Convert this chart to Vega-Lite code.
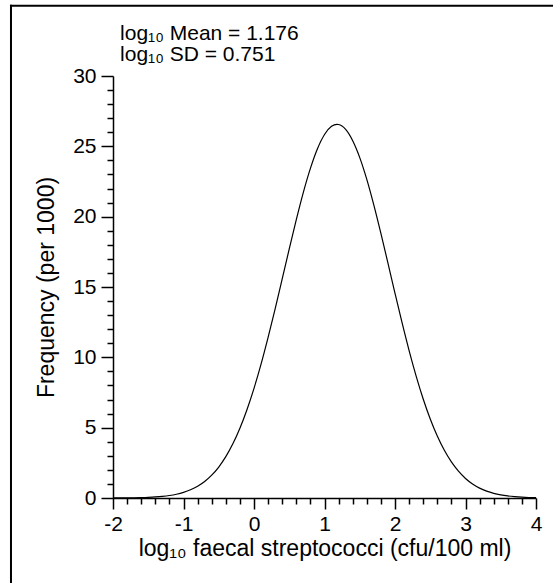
{
  "$schema": "https://vega.github.io/schema/vega-lite/v6.json",
  "width": 423,
  "height": 422,
  "autosize": {"type": "none"},
  "padding": {"left": 113, "top": 76, "right": 17, "bottom": 85},
  "background": "white",
  "config": {"view": {"stroke": null}, "font": "Liberation Sans", "text": {"font": "Liberation Sans"}},
  "data": {"values": [
    {"x": -2.0, "y": 0.0035}, {"x": -1.9, "y": 0.006}, {"x": -1.8, "y": 0.0103}, {"x": -1.7, "y": 0.0174},
    {"x": -1.6, "y": 0.0287}, {"x": -1.5, "y": 0.0465}, {"x": -1.4, "y": 0.074}, {"x": -1.3, "y": 0.1159},
    {"x": -1.2, "y": 0.1782}, {"x": -1.1, "y": 0.2692}, {"x": -1.0, "y": 0.3992}, {"x": -0.9, "y": 0.582},
    {"x": -0.8, "y": 0.8332}, {"x": -0.7, "y": 1.173}, {"x": -0.6, "y": 1.621}, {"x": -0.5, "y": 2.202},
    {"x": -0.4, "y": 2.938}, {"x": -0.3, "y": 3.851}, {"x": -0.2, "y": 4.959}, {"x": -0.1, "y": 6.273},
    {"x": 0.0, "y": 7.794}, {"x": 0.1, "y": 9.516}, {"x": 0.2, "y": 11.42}, {"x": 0.3, "y": 13.45},
    {"x": 0.4, "y": 15.57}, {"x": 0.5, "y": 17.71}, {"x": 0.6, "y": 19.79}, {"x": 0.7, "y": 21.73},
    {"x": 0.8, "y": 23.43}, {"x": 0.9, "y": 24.83}, {"x": 1.0, "y": 25.84}, {"x": 1.1, "y": 26.42},
    {"x": 1.176, "y": 26.56}, {"x": 1.2, "y": 26.55}, {"x": 1.3, "y": 26.2}, {"x": 1.4, "y": 25.4},
    {"x": 1.5, "y": 24.2}, {"x": 1.6, "y": 22.65}, {"x": 1.7, "y": 20.82}, {"x": 1.8, "y": 18.81},
    {"x": 1.9, "y": 16.69}, {"x": 2.0, "y": 14.55}, {"x": 2.1, "y": 12.46}, {"x": 2.2, "y": 10.48},
    {"x": 2.3, "y": 8.667}, {"x": 2.4, "y": 7.038}, {"x": 2.5, "y": 5.615}, {"x": 2.6, "y": 4.401},
    {"x": 2.7, "y": 3.389}, {"x": 2.8, "y": 2.564}, {"x": 2.9, "y": 1.905}, {"x": 3.0, "y": 1.391},
    {"x": 3.1, "y": 0.9976}, {"x": 3.2, "y": 0.7031}, {"x": 3.3, "y": 0.4869}, {"x": 3.4, "y": 0.3312},
    {"x": 3.5, "y": 0.2214}, {"x": 3.6, "y": 0.1453}, {"x": 3.7, "y": 0.0937}, {"x": 3.8, "y": 0.0593},
    {"x": 3.9, "y": 0.0369}, {"x": 4.0, "y": 0.0226}
  ]},
  "layer": [
    {
      "mark": {"type": "line", "color": "black", "strokeWidth": 1.2, "interpolate": "monotone"},
      "encoding": {
        "x": {"field": "x", "type": "quantitative",
          "scale": {"domain": [-2, 4], "nice": false, "zero": false},
          "axis": {"orient": "bottom", "values": [-2, -1, 0, 1, 2, 3, 4], "labelExpr": "datum.value + ''",
            "tickSize": 11, "tickWidth": 1.5, "tickColor": "black", "domainColor": "black", "domainWidth": 1.5,
            "labelColor": "black", "labelFontSize": 21, "labelFont": "Liberation Sans", "labelPadding": 4,
            "labelFlush": false, "grid": false,
            "title": "log₁₀ faecal streptococci (cfu/100 ml)", "titleFont": "Liberation Sans", "titleFontSize": 23,
            "titleFontWeight": "normal", "titleColor": "black", "titlePadding": 3}},
        "y": {"field": "y", "type": "quantitative",
          "scale": {"domain": [0, 30], "nice": false, "zero": false},
          "axis": {"orient": "left", "values": [0, 5, 10, 15, 20, 25, 30],
            "tickSize": 12, "tickWidth": 1.5, "tickColor": "black", "domainColor": "black", "domainWidth": 1.5,
            "labelColor": "black", "labelFontSize": 21, "labelFont": "Liberation Sans", "labelPadding": 5,
            "labelFlush": false, "grid": false,
            "title": "Frequency (per 1000)", "titleFont": "Liberation Sans", "titleFontSize": 23,
            "titleFontWeight": "normal", "titleColor": "black", "titlePadding": 14}}
      }
    },
    {
      "mark": {"type": "line", "opacity": 0},
      "encoding": {
        "x": {"field": "x", "type": "quantitative",
          "scale": {"domain": [-2, 4], "nice": false, "zero": false},
          "axis": {"orient": "bottom", "values": [-1.8, -1.6, -1.4, -1.2, -0.8, -0.6, -0.4, -0.2, 0.2, 0.4, 0.6, 0.8, 1.2, 1.4, 1.6, 1.8, 2.2, 2.4, 2.6, 2.8, 3.2, 3.4, 3.6, 3.8],
            "tickSize": 6, "tickWidth": 1.5, "tickColor": "black", "domain": false, "labels": false, "grid": false, "title": null}},
        "y": {"field": "y", "type": "quantitative",
          "scale": {"domain": [0, 30], "nice": false, "zero": false},
          "axis": {"orient": "left", "values": [1, 2, 3, 4, 6, 7, 8, 9, 11, 12, 13, 14, 16, 17, 18, 19, 21, 22, 23, 24, 26, 27, 28, 29],
            "tickSize": 6, "tickWidth": 1.5, "tickColor": "black", "domain": false, "labels": false, "grid": false, "title": null}}
      }
    },
    {
      "data": {"values": [{"note": "annotation"}]},
      "mark": {"type": "text", "text": ["log₁₀ Mean = 1.176", "log₁₀ SD = 0.751"], "align": "left", "baseline": "alphabetic",
        "lineHeight": 21, "fontSize": 21, "font": "Liberation Sans", "color": "black"},
      "encoding": {
        "x": {"datum": -1.9, "type": "quantitative", "axis": null},
        "y": {"datum": 32.56, "type": "quantitative", "axis": null}
      }
    },
    {
      "data": {"values": [{"note": "frame"}]},
      "mark": {"type": "rule", "color": "black", "strokeWidth": 2, "strokeCap": "square"},
      "encoding": {
        "x": {"datum": -3.447, "type": "quantitative", "axis": null},
        "x2": {"datum": 5},
        "y": {"datum": 35, "type": "quantitative", "axis": null}
      }
    },
    {
      "data": {"values": [{"note": "frame"}]},
      "mark": {"type": "rule", "color": "black", "strokeWidth": 2, "strokeCap": "square"},
      "encoding": {
        "x": {"datum": -3.447, "type": "quantitative", "axis": null},
        "y": {"datum": 35, "type": "quantitative", "axis": null},
        "y2": {"datum": -10}
      }
    }
  ],
  "resolve": {"axis": {"x": "independent", "y": "independent"}}
}
